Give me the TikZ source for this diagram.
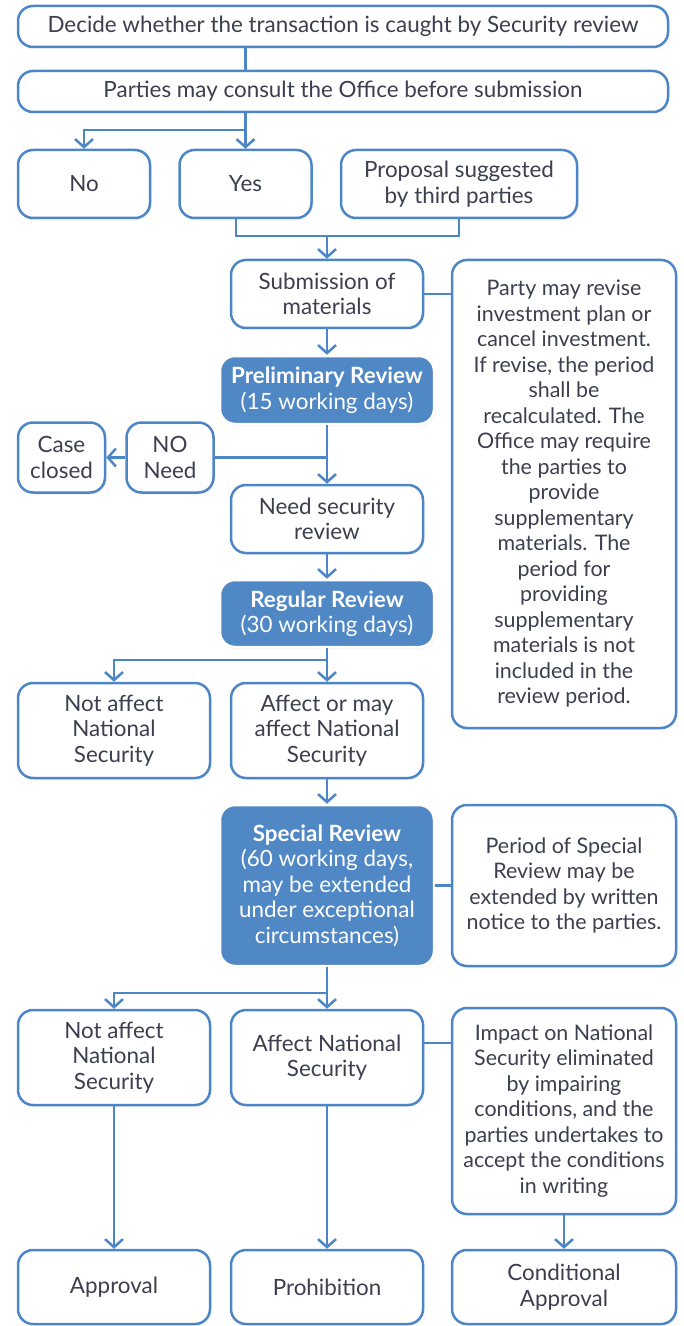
\documentclass[tikz,border=0pt]{standalone}
\usepackage{fontspec}
\setmainfont{Lato}
\usetikzlibrary{arrows.meta}
\usetikzlibrary{shadows}
\definecolor{lineblue}{HTML}{4D86C6}
\definecolor{fillblue}{HTML}{5088C6}
\definecolor{textgray}{HTML}{3C3F4F}

\begin{document}
\begin{tikzpicture}[x=0.5pt, y=-0.5pt,
    box/.style={draw=lineblue, line width=1.25pt, rounded corners=7.5pt, fill=white,
      text=textgray, align=center, inner sep=0pt,
      font=\fontsize{11.2}{12.75}\selectfont,
      drop shadow={opacity=0.07, shadow xshift=0.8pt, shadow yshift=-1.2pt}},
    review/.style={box, draw=white, fill=fillblue, text=white},
    wide/.style={minimum width=325pt, minimum height=20.5pt},
    small/.style={minimum width=66pt, minimum height=34pt},
    tiny/.style={minimum width=43.5pt, minimum height=35pt},
    mid/.style={minimum width=96pt, minimum height=34pt},
    rev/.style={minimum width=107pt, minimum height=34pt},
    tall/.style={minimum width=96pt, minimum height=47.5pt},
    side/.style={minimum width=112pt, font=\fontsize{10.7}{12.75}\selectfont},
    flow/.style={draw=lineblue, line width=1.25pt, -{Straight Barb[length=4pt,width=9pt]}},
    link/.style={draw=lineblue, line width=1.25pt}]
        \useasboundingbox (0,0) rectangle (684,1326);
        %%%TOP%%%
        \node[box, wide] (decide) at (343,26.5)
          {Decide whether the transaction is caught by Security review};
        \node[box, wide] (consult) at (343,91.5)
          {Parties may consult the Office before submission};
        \node[box, small] (no) at (84,184) {No};
        \node[box, small] (yes) at (245.5,184) {Yes};
        \node[box, minimum width=118pt, minimum height=34pt] (third) at (459,184)
          {Proposal suggested\\by third parties};
        %%%PRELIMINARY%%%
        \node[box, mid] (submit) at (327,294) {Submission of\\materials};
        \node[box, side, minimum height=234pt] (revise) at (564,494)
          {Party may revise\\investment plan or\\cancel investment.\\If revise, the period\\shall be\\recalculated. The\\Office may require\\the parties to\\provide\\supplementary\\materials. The\\period for\\providing\\supplementary\\materials is not\\included in the\\review period.};
        \node[review, rev] (prelim) at (327,390)
          {\textbf{Preliminary Review}\\(15 working days)};
        \node[box, tiny] (noneed) at (170,457.5) {NO\\Need};
        \node[box, tiny] (closed) at (61.5,457.5) {Case\\closed};
        \node[box, mid] (needrev) at (327,519) {Need security\\review};
        %%%REGULAR%%%
        \node[review, rev, minimum height=33.5pt] (regular) at (327,613.5)
          {\textbf{Regular Review}\\(30 working days)};
        \node[box, tall] (notaffa) at (114,730.5) {Not affect\\National\\Security};
        \node[box, tall] (affmay) at (327,730.5) {Affect or may\\affect National\\Security};
        %%%SPECIAL%%%
        \node[review, minimum width=107pt, minimum height=80.5pt] (special) at (327,885.5)
          {\textbf{Special Review}\\(60 working days,\\may be extended\\under exceptional\\circumstances)};
        \node[box, side, minimum height=80.5pt] (extend) at (564,885.5)
          {Period of Special\\Review may be\\extended by written\\notice to the parties.};
        \node[box, tall] (notaffb) at (114,1057.5) {Not affect\\National\\Security};
        \node[box, tall] (affect) at (327,1057.5) {Affect National\\Security};
        \node[box, side, minimum height=103pt] (impact) at (564,1111)
          {Impact on National\\Security eliminated\\by impairing\\conditions, and the\\parties undertakes to\\accept the conditions\\in writing};
        %%%OUTCOMES%%%
        \node[box, minimum width=96pt, minimum height=37pt] (approval) at (114,1287) {Approval};
        \node[box, minimum width=96pt, minimum height=37pt] (prohib) at (327,1287) {Prohibition};
        \node[box, side, minimum height=37pt, font=\fontsize{11.2}{12.75}\selectfont] (cond) at (564,1287) {Conditional\\Approval};
        %split points
        \coordinate (splita) at (0,130);
        \coordinate (joina) at (0,236);
        \coordinate (splitb) at (0,660);
        \coordinate (splitc) at (0,993);
        %connectors
        \draw[link] (decide.south -| yes) -- (consult.north -| yes);
        \draw[flow] (consult.south -| yes) -- (yes.north);
        \draw[flow] (splita -| yes) -| (no.north);
        \draw[link] ([xshift=-4.75pt]yes.south) |- (joina -| third.south) -- (third.south);
        \draw[flow] (joina -| submit) -- (submit.north);
        \draw[link] (submit.east) -- (submit.east -| revise.west);
        \draw[flow] (submit.south) -- (prelim.north);
        \draw[flow] (prelim.south) -- (needrev.north);
        \draw[link] (noneed.east -| prelim) -- (noneed.east);
        \draw[flow] (noneed.west) -- (closed.east);
        \draw[flow] (needrev.south) -- (regular.north);
        \draw[flow] (regular.south) -- (affmay.north);
        \draw[flow] (splitb -| regular) -| (notaffa.north);
        \draw[flow] (affmay.south) -- (special.north);
        \draw[link] (special.east) -- (extend.west);
        \draw[flow] (special.south) -- (affect.north);
        \draw[flow] (splitc -| special) -| (notaffb.north);
        \draw[link] ([yshift=7.25pt]affect.east) -- ([yshift=7.25pt]affect.east -| impact.west);
        \draw[flow] (notaffb.south) -- (approval.north);
        \draw[flow] (affect.south) -- (prohib.north);
        \draw[flow] (impact.south) -- (cond.north);
\end{tikzpicture}
\end{document}
